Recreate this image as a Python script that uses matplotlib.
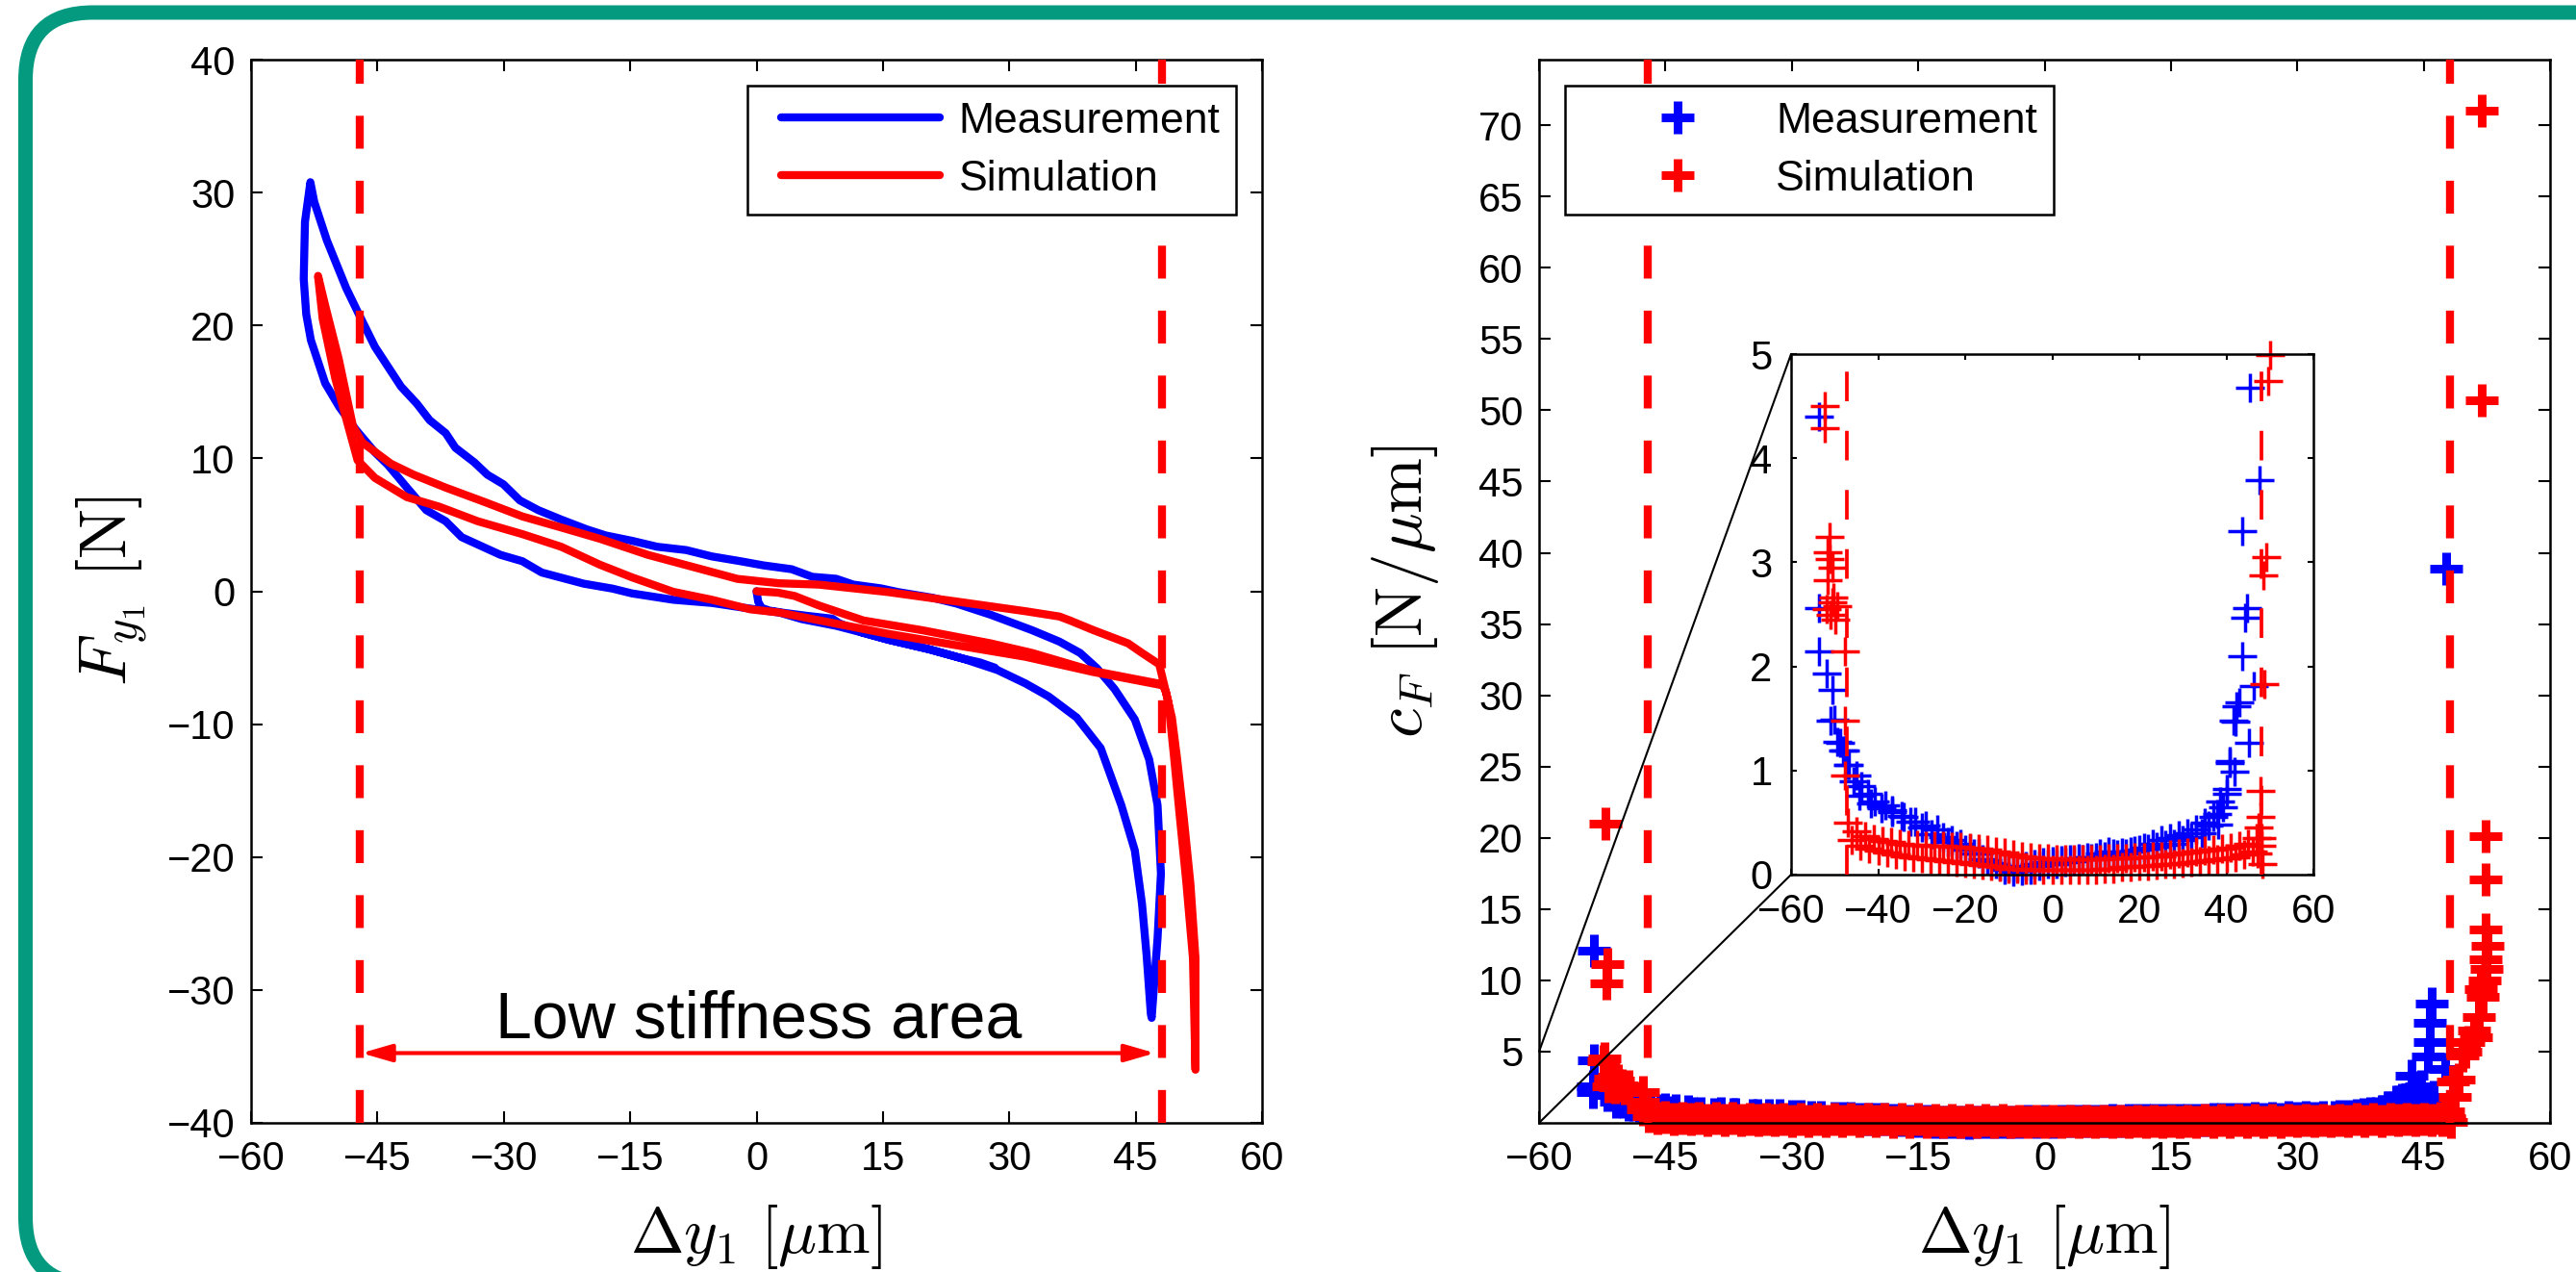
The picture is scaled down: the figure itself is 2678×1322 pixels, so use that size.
import matplotlib
matplotlib.use("Agg")
import matplotlib.pyplot as plt
import numpy as np
from matplotlib.lines import Line2D
from matplotlib.legend_handler import HandlerLine2D
from matplotlib.patches import FancyBboxPatch, FancyArrowPatch, ConnectionPatch
from matplotlib.transforms import IdentityTransform

W, H = 2678, 1322
BLUE = (0, 0, 1)
RED = (1, 0, 0)
FRAME = "#049a80"

plt.rcParams["font.family"] = ["Liberation Sans", "DejaVu Sans"]
plt.rcParams["mathtext.fontset"] = "cm"

# ---- left panel: force vs displacement loops ----
meas_fx = [0.0, 0.2, 0.6, 1.5, 3.3, 6.0, 9.0, 9.8, 12.5, 15.6,
           20.45, 24.5, 28.6, 31.9, 34.7, 38.0, 40.85, 43.3, 44.9, 45.75,
           46.3, 46.8, 46.9, 47.6, 48.0, 47.6, 46.6, 44.9, 42.5, 40.4,
           38.4, 35.95, 32.7, 27.8, 23.7, 20.9, 16.8, 14.75, 11.5, 9.45,
           6.6, 4.16, 0.8, -1.9, -5.3, -8.35, -11.8, -14.8, -17.9, -20.2,
           -23.2, -25.9, -28.1, -30.05, -31.95, -33.5, -35.75, -36.9, -38.8, -40.3,
           -42.2, -45.3, -47.2, -48.7, -51.0, -52.5, -52.96, -53.6, -53.75, -53.45,
           -52.9, -51.2, -49.5, -47.55, -45.3, -43.75, -41.5, -39.2, -36.9, -35.0,
           -30.4, -27.8, -25.5, -20.5, -17.1, -14.8, -9.9, -5.3, -1.5, 2.7,
           5.4, 9.45, 12.5, 15.6, 20.45, 24.5, 26.5, 28.3]
meas_fy = [0.0, -0.8, -1.25, -1.45, -1.63, -1.85, -2.06, -2.4, -3.1, -3.64,
           -4.36, -5.07, -5.93, -6.93, -7.93, -9.5, -11.8, -16.1, -19.5, -23.5,
           -27.4, -31.8, -32.1, -26.1, -21.25, -16.1, -12.65, -9.65, -7.36, -5.79,
           -4.64, -3.79, -2.93, -1.77, -0.92, -0.49, -0.06, 0.22, 0.5, 0.94,
           1.09, 1.66, 1.95, 2.26, 2.62, 3.1, 3.35, 3.8, 4.2, 4.67,
           5.4, 6.1, 6.84, 8.05, 8.77, 9.7, 10.8, 11.9, 12.87, 14.1,
           15.4, 18.4, 20.84, 22.8, 26.4, 29.3, 30.78, 27.8, 23.5, 20.84,
           18.9, 15.65, 13.84, 12.15, 10.46, 9.5, 7.8, 6.1, 5.27, 4.07,
           2.74, 2.26, 1.41, 0.57, 0.2, -0.16, -0.64, -0.88, -1.24, -1.6,
           -2.1, -2.6, -3.1, -3.64, -4.36, -5.07, -5.35, -5.75]

sim_fx = [0.0, 2.5, 4.5, 7.4, 12.7, 19.65, 27.8, 32.7, 40.0, 48.2,
          48.6, 49.3, 49.9, 50.7, 51.5, 52.1, 52.1,
          51.8, 51.0, 50.2, 49.5, 48.9, 47.8,
          45.75, 44.1, 40.0, 37.2, 35.95, 31.9, 23.7, 15.6, 7.4, 2.7,
          -2.26, -7.2, -12.9, -18.6, -23.2, -27.8, -32.3, -36.9, -40.7, -43.4,
          -46.8, -47.9,
          -49.6, -51.2, -52.05,
          -51.5, -50.0, -48.5, -47.36,
          -45.3, -41.5, -37.65, -33.1, -27.8, -23.2, -18.6, -14.8, -9.9, -5.3,
          -0.74, 2.7, 15.6, 31.9, 40.0, 48.2]
sim_fy = [0.0, -0.1, -0.35, -1.07, -2.2, -2.93, -3.92, -4.64, -6.0, -7.0,
          -7.6, -9.5, -12.5, -17.0, -22.0, -27.6, -36.0,
          -27.6, -21.8, -16.7, -12.1, -8.4, -5.5,
          -4.64, -3.92, -2.93, -2.2, -1.9, -1.5, -0.77, -0.06, 0.5, 0.6,
          0.93, 1.77, 2.74, 3.95, 4.8, 5.63, 6.72, 7.8, 8.77, 9.6,
          11.2, 12.4,
          17.5, 21.5, 23.73,
          20.5, 16.0, 12.5, 9.86,
          8.53, 7.08, 6.36, 5.27, 4.3, 3.35, 2.0, 1.05, -0.04, -0.64,
          -1.36, -1.6, -3.2, -4.93, -6.08, -7.08]

# boundaries of the low stiffness area
bound_x = [-47.1, 48.1]

# ---- right panel: stiffness c_F ----
meas_left_x = [-53.5, -53.5, -53.6, -53.6, -51.9, -50.6, -50.0, -50.9, -49.4, -48.8,
               -48.1, -47.7, -46.9, -46.8, -45.6, -45.0, -44.3, -43.8, -42.3, -41.7,
               -40.8, -39.2, -38.4, -36.9, -36.7, -34.6, -34.1, -32.7, -31.5, -30.0,
               -29.0, -27.7, -26.5, -25.0, -23.9]
meas_left_y = [12.1, 4.4, 2.56, 2.14, 1.93, 1.77, 1.49, 1.48, 1.28, 1.27,
               1.19, 1.19, 1.05, 1.05, 0.90, 0.95, 0.76, 0.85, 0.78, 0.68,
               0.70, 0.64, 0.67, 0.62, 0.60, 0.56, 0.55, 0.51, 0.51, 0.45,
               0.47, 0.39, 0.43, 0.36, 0.31]
meas_mid_x = [-22, -20, -18, -16, -14, -12, -10, -8, -6, -4, -2, 0, 2, 4, 6, 8, 10,
              12, 14, 16, 18, 20, 22, 24, 26, 28, 30,
              -23, -21, -19, -17, -15, -13, -11, -9, -7, -5, -3, -1, 1, 3, 5, 7, 9,
              11, 13, 15, 17, 19, 21, 23, 25, 27, 29, 31]
meas_mid_y = [0.28, 0.24, 0.20, 0.15, 0.11, 0.08, 0.07, 0.07, 0.08, 0.10, 0.12, 0.13,
              0.14, 0.15, 0.16, 0.17, 0.17, 0.18, 0.20, 0.21, 0.22, 0.24, 0.25, 0.27,
              0.29, 0.30, 0.33,
              0.33, 0.30, 0.25, 0.20, 0.14, 0.10, 0.05, 0.03, 0.04, 0.05, 0.08, 0.10,
              0.10, 0.12, 0.13, 0.15, 0.16, 0.20, 0.22, 0.19, 0.20, 0.23, 0.26, 0.30,
              0.33, 0.35, 0.38, 0.40]
meas_right_x = [32.0, 33.0, 34.4, 35.0, 36.0, 37.0, 37.8, 38.1, 38.6, 39.3,
                40.0, 40.1, 40.7, 40.8, 41.8, 41.7, 42.0, 42.4, 43.0, 43.6,
                44.3, 44.7, 45.1, 46.2, 43.6, 47.6, 45.5, 45.7, 45.7, 45.9, 47.7]
meas_right_y = [0.36, 0.43, 0.40, 0.50, 0.47, 0.55, 0.58, 0.48, 0.70, 0.65,
                0.78, 0.82, 1.09, 1.07, 0.99, 1.48, 1.47, 1.62, 1.65, 2.10,
                2.47, 2.56, 1.27, 1.81, 3.30, 3.79, 4.68, 5.7, 7.0, 8.4, 38.9]

sim_left_x = [-52.1, -51.9, -52.0, -52.2, -52.3, -51.05, -51.5, -51.05, -50.6, -51.5,
              -50.2, -49.4, -51.0, -50.5, -51.8, -49.8, -47.7, -47.7, -47.7]
sim_left_y = [21.0, 11.15, 9.8, 4.5, 4.29, 3.24, 3.10, 3.03, 2.95, 2.83,
              2.66, 2.58, 2.50, 2.62, 2.55, 2.45, 2.14, 1.48, 0.95]
sim_mid_x = [-47, -45, -43, -41, -39, -37, -35, -33, -31, -29, -27, -25, -23, -21,
             -19, -17, -15, -13, -11, -9, -7, -5, -3, -1, 1, 3, 5, 7, 9, 11, 13, 15,
             17, 19, 21, 23, 25, 27, 29, 31, 33, 35, 37, 39, 41, 43, 45, 47,
             -46, -44, -42, -40, -38, -36, -34, -32, -30, -28, -26, -24, -22, -20,
             -18, -16, -14, -12, -10, -8, -6, -4, -2, 0, 2, 4, 6, 8, 10, 12, 14, 16,
             18, 20, 22, 24, 26, 28, 30, 32, 34, 36, 38, 40, 42, 44, 46, 48]
sim_mid_y = [0.50, 0.42, 0.37, 0.34, 0.32, 0.31, 0.30, 0.29, 0.29, 0.28, 0.28, 0.28,
             0.27, 0.27, 0.26, 0.25, 0.24, 0.22, 0.21, 0.19, 0.18, 0.17, 0.16, 0.16,
             0.15, 0.15, 0.15, 0.15, 0.15, 0.15, 0.16, 0.16, 0.16, 0.17, 0.17, 0.18,
             0.18, 0.19, 0.20, 0.21, 0.22, 0.23, 0.24, 0.25, 0.26, 0.28, 0.30, 0.35,
             0.33, 0.28, 0.25, 0.23, 0.21, 0.19, 0.18, 0.17, 0.16, 0.15, 0.14, 0.13,
             0.12, 0.11, 0.10, 0.09, 0.08, 0.07, 0.06, 0.06, 0.05, 0.05, 0.05, 0.05,
             0.05, 0.05, 0.05, 0.05, 0.05, 0.06, 0.06, 0.07, 0.07, 0.08, 0.08, 0.09,
             0.10, 0.10, 0.11, 0.12, 0.13, 0.14, 0.15, 0.16, 0.17, 0.19, 0.22, 0.28]
sim_right_x = [47.2, 48.2, 48.0, 47.5, 47.8, 47.9, 48.7, 48.5, 49.2, 49.6,
               50.0, 50.3, 51.0, 51.2, 51.5, 51.8, 52.0, 52.2, 52.5, 52.3,
               52.6, 52.4, 52.3, 52.3, 51.9, 51.9]
sim_right_y = [0.20, 0.10, 0.35, 0.45, 0.55, 0.80, 1.83, 2.87, 3.05, 4.74,
               4.99, 5.7, 6.5, 6.0, 7.4, 9.4, 8.85, 10.0, 10.8, 11.5,
               12.4, 13.6, 17.1, 20.1, 50.7, 71.0]

meas_cx = np.array(meas_left_x + meas_mid_x + meas_right_x, dtype=float)
meas_cy = np.array(meas_left_y + meas_mid_y + meas_right_y, dtype=float)
sim_cx = np.array(sim_left_x + sim_mid_x + sim_right_x, dtype=float)
sim_cy = np.array(sim_left_y + sim_mid_y + sim_right_y, dtype=float)


def px_axes(fig, left, top, right, bottom):
    return fig.add_axes([left / W, 1 - bottom / H, (right - left) / W, (bottom - top) / H])


def style(ax, length=8.3, xpad=13, ypad=12):
    ax.tick_params(direction="in", top=True, right=True, length=length,
                   width=1.5, labelsize=30)
    ax.tick_params(axis="x", pad=xpad)
    ax.tick_params(axis="y", pad=ypad)
    for s in ax.spines.values():
        s.set_linewidth(1.8)


fig = plt.figure(figsize=(W / 100, H / 100), dpi=100)
fig.patch.set_facecolor("white")

# rounded green frame around the panel
frame = FancyBboxPatch((26.5, -13), 2750, 1322, boxstyle="round,pad=0,rounding_size=70",
                       transform=IdentityTransform(), fill=False, ec=FRAME, lw=10.8)
fig.add_artist(frame)

leg_kw = dict(fontsize=32, handlelength=4.13, handletextpad=0.43, borderpad=0.37,
              borderaxespad=0.61, labelspacing=0.43, fancybox=False,
              edgecolor="black", framealpha=1,
              handler_map={Line2D: HandlerLine2D(xpad=0.4)})

# ---------------- left ----------------
ax1 = px_axes(fig, 261, 62, 1312, 1167)
ax1.plot(meas_fx, meas_fy, color=BLUE, lw=6, solid_joinstyle="round",
         solid_capstyle="round", label="Measurement", zorder=2)
ax1.plot(sim_fx, sim_fy, color=RED, lw=6, solid_joinstyle="round",
         solid_capstyle="round", label="Simulation", zorder=2)
for xv in bound_x:
    ax1.plot([xv, xv], [-40, 40], color=RED, lw=6, dashes=(4.1, 4.0), zorder=3)
ax1.text(0.3, -33.6, "Low stiffness area", fontsize=49, ha="center", va="baseline")
ax1.add_patch(FancyArrowPatch((-46.9, -34.75), (47.3, -34.75),
                              arrowstyle="<|-|>,head_length=19,head_width=5.5",
                              mutation_scale=1, color=RED, lw=3,
                              shrinkA=0, shrinkB=0, zorder=4))
ax1.set_xlim(-60, 60)
ax1.set_ylim(-40, 40)
ax1.set_xticks(range(-60, 61, 15))
ax1.set_yticks(range(-40, 41, 10))
style(ax1)
ax1.set_xlabel(r"$\Delta y_1\ [\mu\mathrm{m}]$", fontsize=48)
ax1.xaxis.set_label_coords(0.5, -0.075)
ax1.set_ylabel(r"$F_{y_1}\ [\mathrm{N}]$", fontsize=50)
ax1.yaxis.set_label_coords(-0.1, 0.5)
leg1 = ax1.legend(loc="upper right", **leg_kw)
leg1.get_frame().set_linewidth(1.8)

# ---------------- right ----------------
ax2 = px_axes(fig, 1600, 62, 2651, 1167)
ax2.plot(meas_cx, meas_cy, ls="none", marker="+", ms=25, mew=6.5, color=BLUE,
         clip_on=False, label="Measurement", zorder=2)
ax2.plot(sim_cx, sim_cy, ls="none", marker="+", ms=25, mew=6.5, color=RED,
         clip_on=False, label="Simulation", zorder=2)
for xv in bound_x:
    ax2.plot([xv, xv], [0, 74.6], color=RED, lw=6, dashes=(4.1, 4.0), zorder=3)
ax2.set_xlim(-60, 60)
ax2.set_ylim(0, 74.6)
ax2.set_xticks(range(-60, 61, 15))
ax2.set_yticks(range(5, 71, 5))
style(ax2)
ax2.set_xlabel(r"$\Delta y_1\ [\mu\mathrm{m}]$", fontsize=48)
ax2.xaxis.set_label_coords(0.5, -0.075)
ax2.set_ylabel(r"$c_F\ [\mathrm{N}/\mu\mathrm{m}]$", fontsize=50)
ax2.yaxis.set_label_coords(-0.097, 0.5)
leg2 = ax2.legend(loc="upper left", **leg_kw)
leg2.get_frame().set_linewidth(1.8)

# ---------------- inset (zoom of 0..5) ----------------
axin = px_axes(fig, 1862, 368, 2405, 909)
mk = meas_cy <= 5.3
sk = sim_cy <= 5.3
axin.plot(meas_cx[mk], meas_cy[mk], ls="none", marker="+", ms=22, mew=2.5,
          color=BLUE, clip_on=False, zorder=2)
axin.plot(sim_cx[sk], sim_cy[sk], ls="none", marker="+", ms=22, mew=2.5,
          color=RED, clip_on=False, zorder=2)
for xv in bound_x:
    axin.plot([xv, xv], [0, 5], color=RED, lw=2.7, dashes=(8.2, 8.2), zorder=3)
axin.set_xlim(-60, 60)
axin.set_ylim(0, 5)
axin.set_xticks(range(-60, 61, 20))
axin.set_yticks(range(0, 6))
style(axin, length=4.5, xpad=14, ypad=14)

for ya, yb in [(5, 1), (0, 0)]:
    con = ConnectionPatch(xyA=(-60, ya), coordsA=ax2.transData,
                          xyB=(0, yb), coordsB=axin.transAxes,
                          color="black", lw=1.5)
    fig.add_artist(con)

fig.savefig("out.png", dpi=100, facecolor="white")
